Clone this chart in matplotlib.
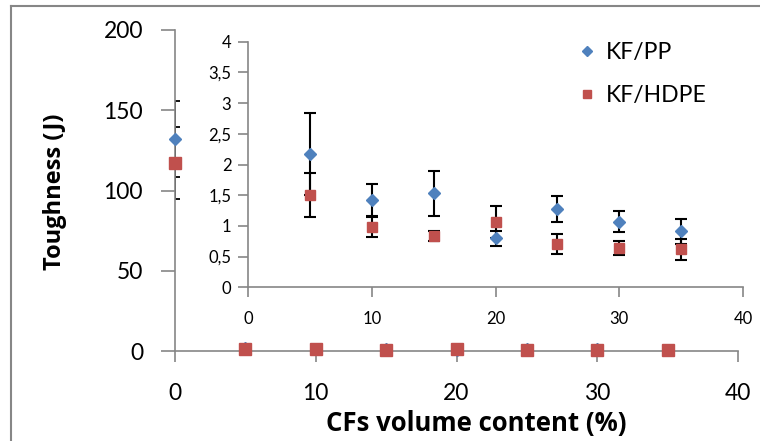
"""Toughness vs CFs volume content, with zoomed inset."""

import matplotlib.pyplot as plt
from matplotlib.lines import Line2D
from matplotlib.ticker import FuncFormatter

plt.rcParams["font.family"] = ["Lato", "DejaVu Sans"]

# data
cf_content = [0, 5, 10, 15, 20, 25, 30, 35]
pp_tough = [132, 2.17, 1.42, 1.53, 0.80, 1.27, 1.07, 0.91]
pp_err = [23.5, 0.67, 0.27, 0.37, 0.12, 0.21, 0.17, 0.20]
hdpe_tough = [117, 1.50, 0.99, 0.83, 1.06, 0.70, 0.64, 0.62]
hdpe_err = [22.5, 0.36, 0.17, 0.08, 0.26, 0.16, 0.115, 0.17]

# inset shows the filled samples only (5-35 %)
inset_x = cf_content[1:]

BLUE = "#4F81BD"
RED = "#C0504D"
GRAY = "#868686"

fig = plt.figure(figsize=(7.6, 4.41), dpi=100)

# outer chart border (top / left visible)
fig.add_artist(Line2D([11 / 760, 11 / 760], [0, 1 - 5.5 / 441], color=GRAY, lw=1.5))
fig.add_artist(Line2D([11 / 760, 1], [1 - 5.5 / 441, 1 - 5.5 / 441], color=GRAY, lw=1.5))

# main axes
ax = fig.add_axes([175 / 760, 90 / 441, 563 / 760, 321 / 441])
ax.patch.set_alpha(0)
err_kw = dict(fmt="none", ecolor="black", elinewidth=1.3, capsize=3.6, capthick=1.3)
ax.errorbar(cf_content, pp_tough, yerr=pp_err, **err_kw)
ax.errorbar(cf_content, hdpe_tough, yerr=hdpe_err, **err_kw)
ax.plot(cf_content, pp_tough, "D", color=BLUE, ms=6.5, mec=BLUE, clip_on=False, zorder=5)
ax.plot(cf_content, hdpe_tough, "s", color=RED, ms=9, mec=RED, clip_on=False, zorder=6)

ax.set_xlim(0, 40)
ax.set_ylim(0, 200)
ax.set_xticks([0, 10, 20, 30, 40])
ax.set_yticks([0, 50, 100, 150, 200])
for side in ("top", "right"):
    ax.spines[side].set_visible(False)
for side in ("left", "bottom"):
    ax.spines[side].set_color(GRAY)
    ax.spines[side].set_linewidth(1.2)
ax.tick_params(axis="y", direction="out", length=10, width=1.2, color=GRAY,
               labelsize=16.5, pad=13)
ax.tick_params(axis="x", direction="out", length=8, width=1.2, color=GRAY,
               labelsize=16.5, pad=15)

label_font = dict(family=["Open Sans", "DejaVu Sans"], fontweight="bold")
ax.set_xlabel("CFs volume content (%)", fontsize=18.5, **label_font)
ax.set_ylabel("Toughness (J)", fontsize=17, **label_font)
ax.xaxis.set_label_coords((476 - 175) / 563, (441 - 424 - 90) / 321)
ax.yaxis.set_label_coords((55 - 175) / 563, (441 - 90 - 192) / 321)
ax.yaxis.label.set_va("center")
ax.xaxis.label.set_va("center")

# inset axes
ins = fig.add_axes([248 / 760, 153.7 / 441, 495 / 760, 245.6 / 441])
ins.patch.set_alpha(0)
ins_err = dict(fmt="none", ecolor="black", elinewidth=1.5, capsize=4.5, capthick=1.5)
ins.errorbar(inset_x, pp_tough[1:], yerr=pp_err[1:], **ins_err)
ins.errorbar(inset_x, hdpe_tough[1:], yerr=hdpe_err[1:], **ins_err)
ins.plot(inset_x, pp_tough[1:], "D", color=BLUE, ms=6.5, mec=BLUE, zorder=5, label="KF/PP")
ins.plot(inset_x, hdpe_tough[1:], "s", color=RED, ms=7.5, mec=RED, zorder=6, label="KF/HDPE")

ins.set_xlim(0, 40)
ins.set_ylim(0, 4)
ins.set_xticks([0, 10, 20, 30, 40])
ins.set_yticks([0, 0.5, 1, 1.5, 2, 2.5, 3, 3.5, 4])
ins.yaxis.set_major_formatter(FuncFormatter(lambda v, p: f"{v:g}".replace(".", ",")))
for side in ("top", "right"):
    ins.spines[side].set_visible(False)
for side in ("left", "bottom"):
    ins.spines[side].set_color(GRAY)
    ins.spines[side].set_linewidth(1.2)
ins.tick_params(axis="y", direction="out", length=7, width=1.2, color=GRAY,
                labelsize=12, pad=5)
ins.tick_params(axis="x", direction="out", length=7, width=1.2, color=GRAY,
                labelsize=12, pad=10)

ins.legend(loc="upper left", bbox_to_anchor=(578 / 760, 1 - 42 / 441),
           bbox_transform=fig.transFigure, frameon=False, fontsize=16.5,
           handlelength=0.8, handletextpad=0.4, labelspacing=0.95,
           borderaxespad=0, borderpad=0, markerscale=0.85)

fig.savefig("out.png", dpi=100)
